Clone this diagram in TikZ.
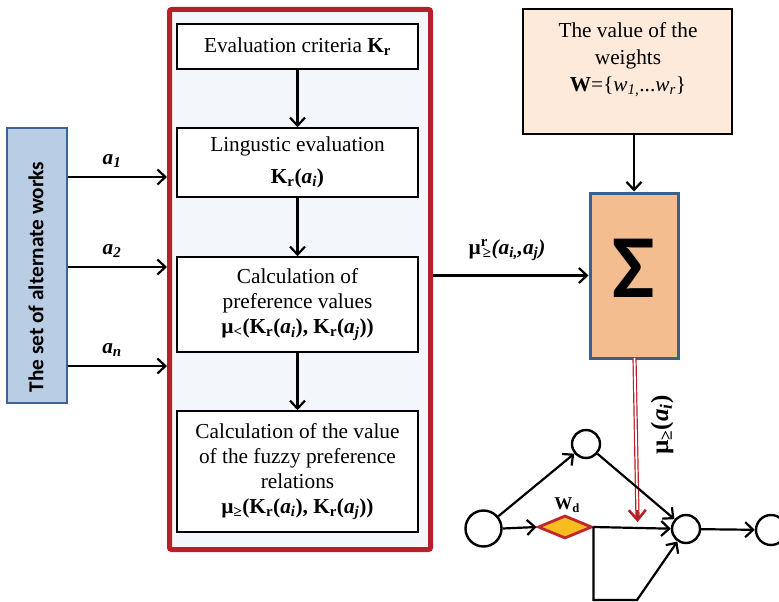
\documentclass[tikz,border=0pt]{standalone}
\usepackage{fontspec}
\setmainfont{Liberation Serif}
\newfontfamily\calib{Carlito}
\usetikzlibrary{arrows.meta,shapes.geometric}
\definecolor{myred}{HTML}{B5202A}
\definecolor{bluefill}{HTML}{B9CDE5}
\definecolor{blueborder}{HTML}{3C6496}
\definecolor{framefill}{HTML}{F3F6FB}
\definecolor{wfill}{HTML}{FDEADA}
\definecolor{sigfill}{HTML}{F4BD8F}
\definecolor{sigborder}{HTML}{3D5F8C}
\definecolor{dfill}{HTML}{F7BD1E}
\definecolor{dborder}{HTML}{C0272D}
\tikzset{
  arr/.style={draw, line width=2.2pt, -{Straight Barb[length=8pt,width=15pt,line width=2.2pt]}},
  stepbox/.style={draw, line width=1.6pt, fill=white, align=center, inner sep=0pt,
     minimum width=241pt, font=\fontsize{21.3}{25}\selectfont},
  txt/.style={align=center, inner sep=0pt, font=\fontsize{21.3}{25}\selectfont},
  circ/.style={circle, draw, line width=2.4pt, fill=white, inner sep=0pt},
}
\begin{document}
\begin{tikzpicture}[x=1pt,y=-1pt]
\useasboundingbox (0,0) rectangle (779,602);
% left blue box
\node[draw=blueborder, line width=1.8pt, fill=bluefill, minimum width=60pt, minimum height=275pt, inner sep=0pt] (blue) at (37,265.5) {};
\node[rotate=90, inner sep=0pt, font=\calib\bfseries\fontsize{21.3}{25}\selectfont] (bluetxt) at (36,277) {The set of alternate works};
% big frame
\node[draw=myred, line width=5pt, fill=framefill, rounded corners=2pt, minimum width=261pt, minimum height=540pt, inner sep=0pt] (frame) at (300,279.5) {};
% inputs
\coordinate (s1) at (blue.east |- 0,177);
\coordinate (s2) at (blue.east |- 0,267);
\coordinate (s3) at (blue.east |- 0,366);
\draw[arr] (s1) -- (s1 -| frame.west);
\draw[arr] (s2) -- (s2 -| frame.west);
\draw[arr] (s3) -- (s3 -| frame.west);
\node[txt] (la1) at (112,161) {\textbf{\textit{a\textsubscript{1}}}};
\node[txt] (la2) at (112,251) {\textbf{\textit{a\textsubscript{2}}}};
\node[txt] (la3) at (112,350) {\textbf{\textit{a\textsubscript{n}}}};
% inner boxes
\node[stepbox, minimum height=45pt] (b1) at (297.5,46.5) {Evaluation criteria \textbf{K\textsubscript{r}}};
\node[stepbox, minimum height=69pt] (b2) at (297.5,162.5) {Lingustic evaluation\\[7pt] \textbf{K\textsubscript{r}(\textit{a\textsubscript{i}})}};
\node[stepbox, minimum height=95pt] (b3) at (297.5,304.5) {Calculation of\\ preference values\\ \textbf{µ\textsubscript{<}(K\textsubscript{r}(\textit{a\textsubscript{i}}), K\textsubscript{r}(\textit{a\textsubscript{j}}))}};
\node[stepbox, minimum height=121pt] (b4) at (297.5,471.5) {Calculation of the value\\ of the fuzzy preference\\ relations\\ \textbf{µ\textsubscript{≥}(K\textsubscript{r}(\textit{a\textsubscript{i}}), K\textsubscript{r}(\textit{a\textsubscript{j}}))}};
\draw[arr] (b1) -- (b2);
\draw[arr] (b2) -- (b3);
\draw[arr] (b3) -- (b4);
% weights
\node[draw, line width=1.6pt, fill=wfill, minimum width=209pt, minimum height=125pt, inner sep=0pt] (wbox) at (627.5,71.5) {};
\node[txt, font=\fontsize{21.3}{27}\selectfont] (wtxt) at (628,60) {The value of the\\ weights\\ \textbf{W}=\{\textit{w\textsubscript{1,}}...\textit{w\textsubscript{r}}\}};
% sigma
\node[draw=sigborder, line width=3pt, fill=sigfill, minimum width=88pt, minimum height=165pt, inner sep=0pt] (sigma) at (634,275.5) {};
\node[inner sep=0pt, font=\calib\bfseries\fontsize{90}{90}\selectfont] (sigtxt) at (634,268) {Σ};
\draw[arr] (sigma.north |- wbox.south) -- (sigma.north);
\draw[arr] (frame.east |- sigma.west) -- (sigma.west);
\node[txt] (lmu) at (507,250) {\textbf{µ\textsuperscript{r}\hspace{-5pt}\textsubscript{≥}\textit{(a\textsubscript{i,},a\textsubscript{j})}}};
% red double line
\coordinate (rtop) at (634.5,358);
\coordinate (rd) at (637.5,518);
\draw[draw=myred, line width=1.2pt, double=white, double distance=1.8pt] (rtop) -- (rd);
\draw[myred, line width=2.6pt, -{Straight Barb[length=10pt,width=17pt,line width=2.6pt]}] (637.3,510) -- (637.6,522);
\node[rotate=90, inner sep=0pt, font=\fontsize{25}{25}\selectfont] (lmui) at (662,425) {\textbf{µ\textsubscript{≥}(\textit{a\textsubscript{i}})}};
% network
\node[circ, minimum size=36pt] (n0) at (483.5,528.5) {};
\node[circ, minimum size=28pt] (n1) at (586,444) {};
\node[circ, minimum size=28pt] (n2) at (686,529) {};
\node[circ, minimum size=30pt] (n3) at (771,530) {};
\node[diamond, draw=dborder, line width=2.8pt, fill=dfill, minimum width=54pt, minimum height=23pt, inner sep=0pt] (d) at (565,527) {};
\node[inner sep=0pt, font=\fontsize{18}{18}\selectfont] (wd) at (567,505) {\textbf{W\textsubscript{d}}};
\draw[arr] (n0) -- (n1);
\draw[arr] (n0.east) -- (d.west);
\draw[arr] (n1) -- (n2);
\draw[arr] (d.east) -- (n2);
\coordinate (c1) at (d.east |- 0,600);
\coordinate (c2) at (637,600);
\draw[arr] (d.east) -- (c1) -- (c2) -- (n2);
\draw[arr] (n2) -- (n3);
\end{tikzpicture}
\end{document}
